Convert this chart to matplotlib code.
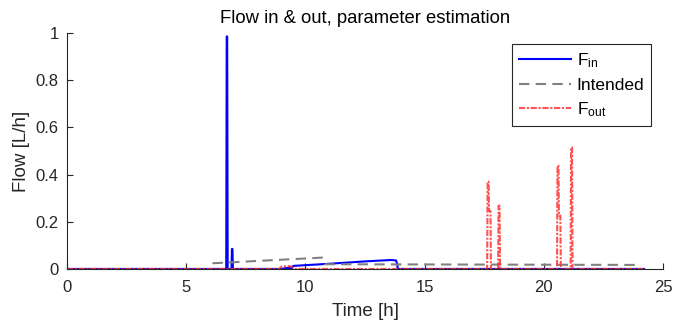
import numpy as np
import matplotlib
matplotlib.use("Agg")
from matplotlib import pyplot as plt

plt.rcParams['font.family'] = ['Liberation Sans', 'DejaVu Sans']
plt.rcParams['mathtext.fontset'] = 'custom'
plt.rcParams['mathtext.rm'] = 'Liberation Sans'
plt.rcParams['mathtext.it'] = 'Liberation Sans'

# F_in (blue)
t_in = [0, 6.68, 6.7, 6.72, 6.74, 6.9, 6.92, 6.94, 6.96, 9.0, 9.2, 9.4, 9.45, 9.3, 9.5,
        11.0, 12.5, 13.6, 13.8, 13.85, 13.87, 24.2]
f_in = [0, 0, 0.985, 0.985, 0, 0, 0.085, 0.085, 0, 0, 0.004, 0.005, 0.003, 0.0, 0.013,
        0.022, 0.032, 0.038, 0.036, 0.02, 0, 0]

# intended (gray dashed)
t_int = [6.1, 8.0, 10.7, 10.8, 24.0]
f_int = [0.024, 0.034, 0.048, 0.02, 0.017]

# F_out (red dash-dot)
t_out = [0, 8.9, 9.0, 9.3, 9.45, 9.55, 17.62, 17.64, 17.68, 17.7, 17.76, 17.78, 17.8,
         18.08, 18.1, 18.14, 18.16, 20.55, 20.57, 20.61, 20.63, 20.69, 20.71, 20.73,
         21.12, 21.14, 21.18, 21.2, 24.2]
f_out = [0, 0, 0.01, 0.012, 0.008, 0, 0, 0.37, 0.37, 0.245, 0.245, 0, 0,
         0, 0.268, 0.268, 0, 0, 0.438, 0.438, 0.226, 0.226, 0, 0,
         0, 0.515, 0.515, 0, 0]

fig = plt.figure(figsize=(6.76, 3.26), dpi=100)
ax = fig.add_axes([0.099, 0.175, 0.882, 0.724])

ax.plot(t_in, f_in, color='#0000ff', lw=1.5, label=r'F$_{\mathregular{in}}$')
ax.plot(t_int, f_int, color='#808080', lw=1.5, ls=(0, (5, 3)), label='Intended')
ax.plot(t_out, f_out, color='#ff3333', alpha=0.85, lw=1.5, ls=(0, (3, 0.8, 1, 0.8)),
        label=r'F$_{\mathregular{out}}$')

ax.set_xlim(0, 25)
ax.set_ylim(0, 1)
ax.set_xticks([0, 5, 10, 15, 20, 25])
ax.set_yticks([0, 0.2, 0.4, 0.6, 0.8, 1])
ax.set_yticklabels(['0', '0.2', '0.4', '0.6', '0.8', '1'])
ax.spines['top'].set_visible(False)
ax.spines['right'].set_visible(False)
for s in ['left', 'bottom']:
    ax.spines[s].set_color('#262626')
    ax.spines[s].set_linewidth(0.8)
ax.tick_params(direction='in', length=4, colors='#262626', labelsize=12)
ax.tick_params(axis='x', pad=8)
ax.tick_params(axis='y', pad=6)

ax.set_title('Flow in & out, parameter estimation', fontsize=13.3, color='#000000', pad=7)
ax.set_xlabel('Time [h]', fontsize=13.5, color='#262626', labelpad=6)
ax.set_ylabel('Flow [L/h]', fontsize=13.5, color='#262626')

leg = ax.legend(loc='upper right', bbox_to_anchor=(0.98, 0.953), borderaxespad=0,
                fancybox=False, edgecolor='#262626', framealpha=1, fontsize=12.5,
                handlelength=3.0, handletextpad=0.3, labelspacing=0.45)
leg.get_frame().set_linewidth(0.8)

plt.savefig('out.png', dpi=100)
